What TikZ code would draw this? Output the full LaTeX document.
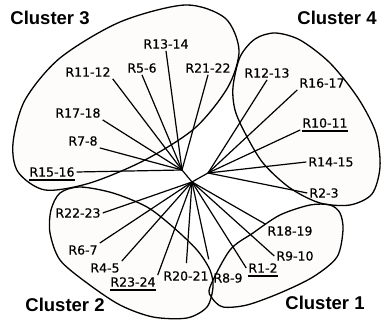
\documentclass[tikz,border=0pt]{standalone}
\usepackage{fontspec}
\setmainfont{DejaVu Sans}
\newfontfamily\tagfont[FakeBold=0.5]{DejaVu Sans}
\newfontfamily\headfont{Liberation Sans}
\usetikzlibrary{calc}
\definecolor{blobfill}{RGB}{253,252,250}

\begin{document}
\begin{tikzpicture}[x=1pt,y=-1pt,
	tag/.style={font=\tagfont\fontsize{12.5}{14}\selectfont, inner sep=2pt},
	head/.style={font=\headfont\bfseries\fontsize{18.5}{20}\selectfont, inner sep=0pt},
	blob/.style={line width=1.3pt},
	branch/.style={line width=1.2pt},
	underbar/.style={line width=2.2pt}]
	\useasboundingbox (0,0) rectangle (381,323);
	\path[save path=\cthree] plot[smooth cycle] coordinates {(13,143) (25,100) (60,58) (120,22) (185,5) (225,18) (239,50) (228,87) (195,128) (145,160) (90,183) (45,190) (18,172)};
	\path[save path=\cfour] plot[smooth cycle] coordinates {(233,87) (240,57) (255,39) (275,33) (300,40) (330,63) (358,98) (376,133) (380,167) (372,194) (350,205) (320,203) (290,188) (263,163) (245,133) (235,110)};
	\path[save path=\cone] plot[smooth cycle] coordinates {(210,287) (230,250) (253,233) (280,215) (310,205) (330,205) (340,213) (343,230) (337,257) (313,277) (280,293) (247,305) (223,307) (212,298)};
	\path[save path=\ctwo] plot[smooth cycle] coordinates {(60,193) (51,210) (50,233) (60,260) (87,283) (120,305) (153,317) (187,318) (207,307) (213,287) (210,270) (197,250) (173,227) (147,207) (113,193) (80,187)};
	\foreach \c in {\cthree, \cfour, \cone, \ctwo} \fill[blobfill, use path=\c];
	\foreach \c in {\cthree, \cfour, \cone, \ctwo} \draw[blob, use path=\c];

	\node[head] (H3) at (50,18) {Cluster 3};
	\node[head] (H4) at (337,18) {Cluster 4};
	\node[head] (H2) at (65,305) {Cluster 2};
	\node[head] (H1) at (325,303) {Cluster 1};

	\node[tag] (R1314) at (166,44) {R13-14};
	\node[tag] (R56) at (142,68) {R5-6};
	\node[tag] (R2122) at (208,68) {R21-22};
	\node[tag] (R1112) at (88,72) {R11-12};
	\node[tag] (R1718) at (78,113) {R17-18};
	\node[tag] (R78) at (83,141) {R7-8};
	\node[tag] (R1516) at (52,172) {R15-16};
	\node[tag] (R1213) at (267,73) {R12-13};
	\node[tag] (R1617) at (322,83) {R16-17};
	\node[tag] (R1011) at (325,123) {R10-11};
	\node[tag] (R1415) at (331,162) {R14-15};
	\node[tag] (R23) at (324,193) {R2-3};
	\node[tag] (R1819) at (290,231) {R18-19};
	\node[tag] (R910) at (295,256) {R9-10};
	\node[tag] (R12) at (263,268) {R1-2};
	\node[tag] (R89) at (228,278) {R8-9};
	\node[tag] (R2021) at (186,276) {R20-21};
	\node[tag] (R2324) at (133,282) {R23-24};
	\node[tag] (R45) at (105,268) {R4-5};
	\node[tag] (R67) at (83,250) {R6-7};
	\node[tag] (R2223) at (78,213) {R22-23};

	\coordinate (UL) at (182,170);
	\coordinate (UR) at (208,173);
	\coordinate (C) at (192,182);
	\draw[branch] (UL) -- (C) -- (UR);
	\foreach \n/\a in {R1314/south, R56/south, R2122/south, R1112/south east, R1718/south east, R78/south east, R1516/east}
		\draw[branch] (UL) -- (\n.\a);
	\foreach \n/\a in {R1213/south, R1617/south west, R1011/south west, R1415/west, R23/west}
		\draw[branch] (UR) -- (\n.\a);
	\foreach \n/\a in {R1819/north west, R910/west, R12/west, R2324/north east, R45/north east, R67/north east, R2223/east}
		\draw[branch] (C) -- (\n.\a);
	\draw[branch, shorten >=12pt] (C) -- (R89.north west);
	\draw[branch, shorten >=6pt] (C) -- (R2021.north);
	\foreach \n in {R1516, R1011, R12, R2324}
		\draw[underbar] ($(\n.south west)+(1.5,1.2)$) -- ($(\n.south east)+(-1.5,1.2)$);
\end{tikzpicture}
\end{document}
